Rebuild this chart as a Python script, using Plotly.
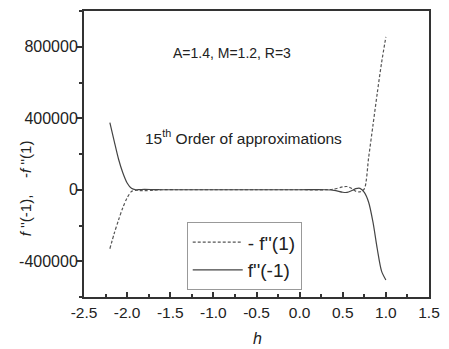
import plotly.graph_objects as go

# -f''(1) (dashed)
h_neg_f1 = [-2.2, -2.15, -2.1, -2.05, -2.0, -1.95, -1.9, -1.85, -1.8, -1.7, -1.6, -1.4, -1.0,
            -0.5, 0.0, 0.3, 0.4, 0.5, 0.55, 0.6, 0.65, 0.7, 0.75, 0.8, 0.85, 0.9, 0.95, 1.0]
neg_f1 = [-330000, -245000, -170000, -100000, -45000, -10000, -3000, -5000, -5000, -3000, 0, 0, 0,
          0, 0, 0, 4000, 16000, 18000, 8000, -8000, -12000, 5000, 180000, 360000, 540000, 710000, 855000]

# f''(-1) (solid)
h_f_m1 = [-2.2, -2.15, -2.1, -2.05, -2.0, -1.95, -1.9, -1.85, -1.8, -1.7, -1.6, -1.4, -1.0,
          -0.5, 0.0, 0.3, 0.4, 0.5, 0.55, 0.6, 0.65, 0.7, 0.75, 0.8, 0.85, 0.9, 0.95, 1.0]
f_m1 = [375000, 272000, 172000, 95000, 38000, 8000, 0, 1000, 2000, 1000, 0, 0, 0,
        0, 0, 0, -3000, -14000, -15000, -6000, 6000, 8000, -15000, -70000, -180000, -330000, -455000, -505000]

x_tickvals = [-2.5, -2.0, -1.5, -1.0, -0.5, 0.0, 0.5, 1.0, 1.5]
x_ticktext = ["-2.5", "-2.0", "-1.5", "-1.0", "-0.5", "0.0", "0.5", "1.0", "1.5"]
y_tickvals = [-400000, 0, 400000, 800000]
y_ticktext = ["-400000", "0", "400000", "800000"]

FONT = "Liberation Sans, Arial, sans-serif"
L, R, T, B = 84, 9, 10, 52
W, H = 449, 349
plot_w = W - L - R
plot_h = H - T - B

def px_x(px):
    return (px - L) / plot_w

def px_y(py):
    return (H - B - py) / plot_h

fig = go.Figure()
fig.add_trace(go.Scatter(x=h_neg_f1, y=neg_f1, mode="lines", name="- f''(1)",
                         line=dict(color="#555555", width=1.2, dash="3px,2px", shape="spline", smoothing=0.8)))
fig.add_trace(go.Scatter(x=h_f_m1, y=f_m1, mode="lines", name="f''(-1)",
                         line=dict(color="#444444", width=1.2, shape="spline", smoothing=0.8)))

axis_common = dict(showline=True, linecolor="#333333", linewidth=2, mirror=True,
                   showgrid=False, zeroline=False, ticklen=5, tickwidth=1.5,
                   tickcolor="#333333")

fig.update_xaxes(range=[-2.5, 1.5], tickvals=x_tickvals, ticktext=x_ticktext, ticks="inside",
                 tickfont=dict(family=FONT, size=15.5, color="#222222"),
                 minor=dict(ticks="inside", ticklen=3, tickcolor="#333333", dtick=0.25, tick0=0),
                 **axis_common)
fig.update_yaxes(range=[-600000, 1000000], tickvals=y_tickvals, ticktext=y_ticktext, ticks="outside",
                 tickfont=dict(family=FONT, size=16, color="#222222"), ticklabelstandoff=-4,
                 minor=dict(ticks="outside", ticklen=3, tickcolor="#333333", dtick=200000, tick0=0),
                 **axis_common)

fig.add_annotation(text="A=1.4, M=1.2, R=3", x=px_x(237), y=px_y(52), xref="paper", yref="paper",
                   xanchor="center", yanchor="middle",
                   showarrow=False, font=dict(family=FONT, size=14, color="#222222"))
fig.add_annotation(text="15<sup>th</sup> Order of approximations", x=px_x(249), y=px_y(136), xref="paper", yref="paper",
                   xanchor="center", yanchor="middle",
                   showarrow=False, font=dict(family=FONT, size=15.5, color="#222222"))
fig.add_annotation(text="<i>f</i> ''(-1),\u00a0\u00a0\u00a0\u00a0-<i>f</i> ''(1)",
                   x=px_x(24), y=px_y(188), xref="paper", yref="paper",
                   xanchor="center", yanchor="middle",
                   showarrow=False, textangle=-90, font=dict(family=FONT, size=15, color="#222222"))
fig.add_annotation(text="<i>h</i>", x=px_x(263), y=px_y(339), xref="paper", yref="paper",
                   xanchor="center", yanchor="middle",
                   showarrow=False, font=dict(family=FONT, size=16, color="#222222"))

fig.update_layout(
    width=W, height=H,
    margin=dict(l=L, r=R, t=T, b=B),
    paper_bgcolor="white", plot_bgcolor="white",
    showlegend=True,
    legend=dict(x=px_x(190), y=px_y(222), xanchor="left", yanchor="top",
                bgcolor="white", bordercolor="#999999", borderwidth=1,
                font=dict(family=FONT, size=19, color="#222222"),
                itemwidth=50, tracegroupgap=0),
)

fig.write_html("out.html")
